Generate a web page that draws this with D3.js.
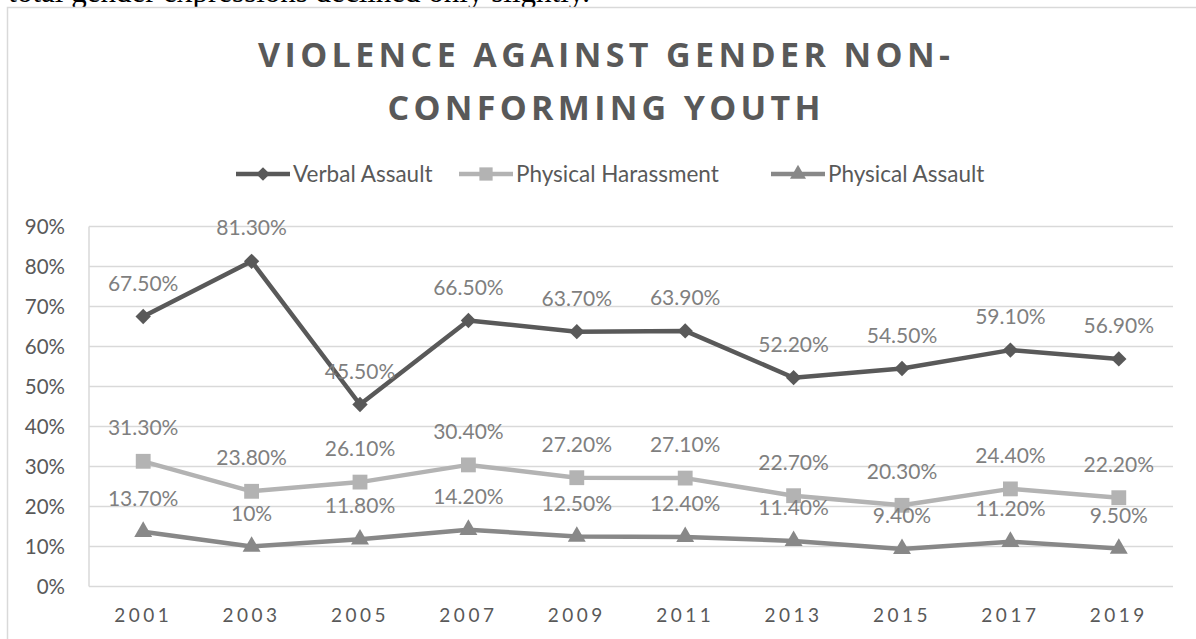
<!DOCTYPE html>
<html><head><meta charset="utf-8">
<script src="https://cdn.jsdelivr.net/npm/d3@7"></script>
<style>
html,body{margin:0;padding:0;background:#fff;overflow:hidden;}
svg{display:block;}
</style></head>
<body>
<svg id="chart" width="1196" height="639"></svg>
<script>
const years = ["2001","2003","2005","2007","2009","2011","2013","2015","2017","2019"];
const verbalAssault = [67.5, 81.3, 45.5, 66.5, 63.7, 63.9, 52.2, 54.5, 59.1, 56.9];
const physicalHarassment = [31.3, 23.8, 26.1, 30.4, 27.2, 27.1, 22.7, 20.3, 24.4, 22.2];
const physicalAssault = [13.7, 10.0, 11.8, 14.2, 12.5, 12.4, 11.4, 9.4, 11.2, 9.5];
const seriesNames = ["Verbal Assault", "Physical Harassment", "Physical Assault"];
const yTicks = [0, 10, 20, 30, 40, 50, 60, 70, 80, 90];
const titleLines = ["VIOLENCE AGAINST GENDER NON-", "CONFORMING YOUTH"];
const topText = "total gender expressions declined only slightly.";

const series = [
  {name: seriesNames[0], values: verbalAssault, color: "#595959", symbol: d3.symbolDiamond2, size: 150},
  {name: seriesNames[1], values: physicalHarassment, color: "#b3b3b3", symbol: d3.symbolSquare2, size: 280},
  {name: seriesNames[2], values: physicalAssault, color: "#888888", symbol: d3.symbolTriangle2, size: 230}
];

const svg = d3.select("#chart");
const font = "Lato, 'Open Sans', sans-serif";

// clipped paragraph text above the chart
svg.append("text").attr("x", 590).attr("y", 2).attr("text-anchor", "end")
  .attr("font-family", "'Liberation Serif', 'Times New Roman', serif")
  .attr("font-size", 31).attr("fill", "#000").text(topText);

// chart frame
svg.append("rect").attr("x", 7.5).attr("y", 7.5).attr("width", 1300).attr("height", 700)
  .attr("fill", "#fff").attr("stroke", "#d9d9d9").attr("stroke-width", 1.5);

const plot = {left: 89, right: 1173, top: 226.5, bottom: 586.5};
const x = d3.scaleBand().domain(years).range([plot.left, plot.right]);
const y = d3.scaleLinear().domain([0, 90]).range([plot.bottom, plot.top]);
const cx = d => x(d) + x.bandwidth() / 2;

// title
const titleBaselines = [67, 120];
const titleWidths = [692, 433];
titleLines.forEach((t, i) => {
  svg.append("text").attr("x", 604).attr("y", titleBaselines[i]).attr("text-anchor", "middle")
    .attr("font-family", "'Open Sans', Lato, sans-serif").attr("font-weight", 700).attr("font-size", 34)
    .attr("fill", "#595959").attr("textLength", titleWidths[i]).attr("lengthAdjust", "spacing")
    .text(t);
});

// gridlines
svg.append("g").selectAll("line").data(yTicks).join("line")
  .attr("x1", plot.left).attr("x2", plot.right)
  .attr("y1", d => y(d)).attr("y2", d => y(d))
  .attr("stroke", "#d9d9d9").attr("stroke-width", 1.5);
// vertical axis line
svg.append("line").attr("x1", plot.left).attr("x2", plot.left)
  .attr("y1", y(90)).attr("y2", y(0)).attr("stroke", "#d9d9d9").attr("stroke-width", 1.5);

// y axis labels
const yAxis = d3.axisLeft(y).tickValues(yTicks).tickFormat(d => d + "%").tickSize(0).tickPadding(0);
const gy = svg.append("g").attr("transform", `translate(65,0)`).call(yAxis);
gy.select(".domain").remove();
gy.selectAll("text").attr("font-family", font).attr("font-size", 20.5).attr("fill", "#595959").attr("dy", "0.35em");

// x axis labels
const xAxis = d3.axisBottom(x).tickSize(0).tickPadding(0);
const gx = svg.append("g").attr("transform", `translate(0,622)`).call(xAxis);
gx.select(".domain").remove();
gx.selectAll("text").attr("font-family", font).attr("font-size", 19).attr("fill", "#595959")
  .attr("dy", 0).attr("letter-spacing", "3.5px");

// lines, markers, labels
const line = d3.line().x((d, i) => cx(years[i])).y(d => y(d));
series.forEach(s => {
  svg.append("path").datum(s.values).attr("d", line).attr("fill", "none")
    .attr("stroke", s.color).attr("stroke-width", 4.5).attr("stroke-linejoin", "round");
});
series.forEach(s => {
  svg.append("g").selectAll("path").data(s.values).join("path")
    .attr("transform", (d, i) => `translate(${cx(years[i])},${y(d)})`)
    .attr("d", d3.symbol().type(s.symbol).size(s.size)).attr("fill", s.color);
});
const fmtLabel = v => (Number.isInteger(v) ? v : v.toFixed(2)) + "%";
series.forEach(s => {
  svg.append("g").selectAll("text").data(s.values).join("text")
    .attr("x", (d, i) => cx(years[i])).attr("y", d => y(d) - 26)
    .attr("text-anchor", "middle").attr("font-family", font).attr("font-size", 21)
    .attr("fill", "#7f7f7f").text(fmtLabel);
});

// legend
const legendItems = [{x: 236}, {x: 459}, {x: 771}];
series.forEach((s, i) => {
  const g = svg.append("g");
  const lx = legendItems[i].x;
  g.append("line").attr("x1", lx).attr("x2", lx + 54).attr("y1", 174).attr("y2", 174)
    .attr("stroke", s.color).attr("stroke-width", 4.5);
  g.append("path").attr("transform", `translate(${lx + 27},174)`)
    .attr("d", d3.symbol().type(s.symbol).size(s.size * 0.8)).attr("fill", s.color);
  g.append("text").attr("x", lx + 57).attr("y", 174).attr("dy", "0.35em")
    .attr("font-family", font).attr("font-size", 22.5).attr("fill", "#595959").text(s.name);
});
</script>
</body></html>
